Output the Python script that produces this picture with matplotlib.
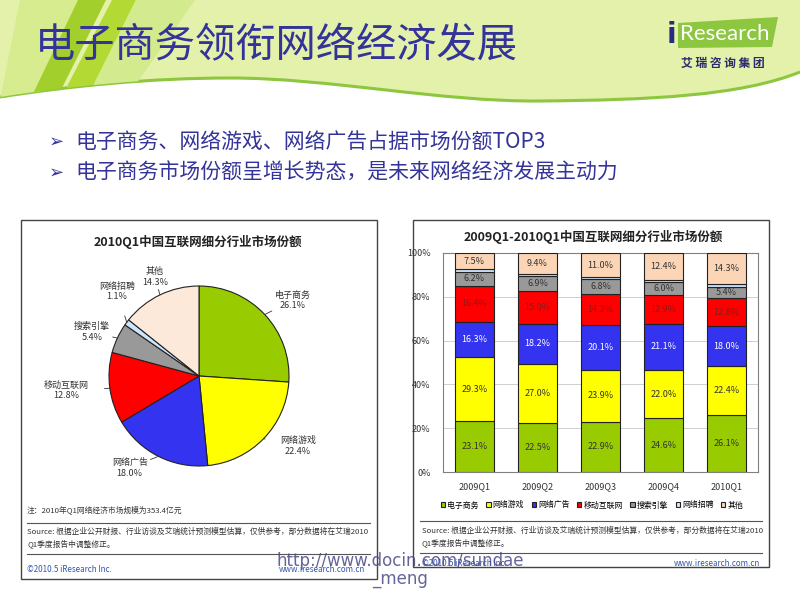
import numpy as np
import matplotlib
matplotlib.use('Agg')
import matplotlib.pyplot as plt
from matplotlib.path import Path
from matplotlib.patches import PathPatch, Polygon, Rectangle

plt.rcParams['font.family'] = ['Noto Sans CJK SC', 'DejaVu Sans']

# data
segments = ['电子商务', '网络游戏', '网络广告', '移动互联网', '搜索引擎', '网络招聘', '其他']
pie_share = [26.1, 22.4, 18.0, 12.8, 5.4, 1.1, 14.3]

quarters = ['2009Q1', '2009Q2', '2009Q3', '2009Q4', '2010Q1']
ecommerce = [23.1, 22.5, 22.9, 24.6, 26.1]
online_game = [29.3, 27.0, 23.9, 22.0, 22.4]
online_ads = [16.3, 18.2, 20.1, 21.1, 18.0]
mobile = [16.4, 15.0, 14.2, 12.9, 12.8]
search = [6.2, 6.9, 6.8, 6.0, 5.4]
recruit = [1.2, 1.0, 1.1, 1.0, 1.1]
others = [7.5, 9.4, 11.0, 12.4, 14.3]

bullets = ['电子商务、网络游戏、网络广告占据市场份额TOP3',
           '电子商务市场份额呈增长势态，是未来网络经济发展主动力']

pie_colors = ['#99cc00', '#ffff00', '#3333f0', '#ff0000', '#999999', '#cce6ff', '#fde9d9']
bar_colors = ['#99cc00', '#ffff00', '#3333f0', '#ff0000', '#999999', '#cce6ff', '#fbd5b5']
label_colors = ['#333333', '#333333', 'white', '#8b1a1a', '#333333', None, '#333333']

navy = '#333399'
source_txt = ('Source: 根据企业公开财报、行业访谈及艾瑞统计预测模型估算，仅供参考，部分数据将在艾瑞2010\n'
              'Q1季度报告中调整修正。')

fig = plt.figure(figsize=(8, 6), dpi=100)
fig.patch.set_facecolor('white')

# background layer in pixel coordinates
bg = fig.add_axes([0, 0, 1, 1])
bg.set_xlim(0, 800)
bg.set_ylim(600, 0)
bg.axis('off')

# header with wave
M, L, C, X = Path.MOVETO, Path.LINETO, Path.CURVE4, Path.CLOSEPOLY
head_verts = [(0, 0), (0, 97), (70, 86), (150, 78), (230, 78), (330, 78), (440, 102),
              (540, 101), (650, 100), (740, 96), (800, 72), (800, 0), (0, 0)]
head_codes = [M, L, C, C, C, C, C, C, C, C, C, L, X]
head = PathPatch(Path(head_verts, head_codes), facecolor='#e3f1aa', edgecolor='none')
bg.add_patch(head)
wave = Path(head_verts[1:11], [M] + [C] * 9)
bg.add_patch(PathPatch(wave, facecolor='none', edgecolor='#8dc63f', lw=2.2))

streaks = [((0, 100), (40, 100), (78, 0), (20, 0), '#d6ec8f'),
           ((30, 100), (56, 100), (106, 0), (78, 0), '#a2cf2c'),
           ((60, 100), (86, 100), (136, 0), (112, 0), '#b3d935'),
           ((86, 100), (125, 100), (195, 0), (136, 0), '#d3ea8e')]
for p1, p2, p3, p4, col in streaks:
    s = Polygon([p1, p2, p3, p4], closed=True, facecolor=col, edgecolor='none')
    bg.add_patch(s)
    s.set_clip_path(head)

bg.text(35, 46, '电子商务领衔网络经济发展', fontsize=29, color=navy, va='center', ha='left')

# logo
bg.add_patch(Polygon([(678, 23), (778, 17), (772, 47), (678, 48)], closed=True,
                     facecolor='#8dc63f', edgecolor='none'))
bg.text(671, 35, 'i', fontsize=20, color='#2a2a80', fontweight='bold', ha='center', va='center',
        family='DejaVu Sans')
bg.text(725, 34, 'Research', fontsize=16, color='white', ha='center', va='center', family='Lato')
bg.text(723, 63, '艾 瑞 咨 询 集 团', fontsize=8.5, color='#2a2a6e', ha='center', va='center',
        fontweight='bold')

# bullet points
for i, b in enumerate(bullets):
    y = 142 + 31 * i
    bg.text(57, y, '➢', fontsize=13, color=navy, ha='center', va='center', family='DejaVu Sans',
            fontweight='bold')
    bg.text(75, y, b, fontsize=15, color=navy, ha='left', va='center')

# panel frames
bg.add_patch(Rectangle((21, 220), 356, 359, facecolor='white', edgecolor='#444444', lw=1))
bg.add_patch(Rectangle((413, 220), 356, 347, facecolor='white', edgecolor='#444444', lw=1))

# left panel footer
bg.text(27, 510, '注：2010年Q1网络经济市场规模为353.4亿元', fontsize=5.6, color='#333333', va='center')
bg.plot([27, 370], [523, 523], color='#555555', lw=0.8)
bg.text(27, 538, source_txt, fontsize=5.6, color='#333333', va='center', linespacing=1.6)
bg.plot([27, 370], [554, 554], color='#555555', lw=0.8)
bg.text(27, 569, '©2010.5 iResearch Inc.', fontsize=5.8, color='#3355aa', va='center')
bg.text(365, 569, 'www.iresearch.com.cn', fontsize=5.8, color='#3355aa', va='center', ha='right')

# right panel footer
bg.plot([420, 762], [521, 521], color='#555555', lw=0.8)
bg.text(422, 537, source_txt, fontsize=5.6, color='#333333', va='center', linespacing=1.6)
bg.plot([420, 762], [553, 553], color='#555555', lw=0.8)
bg.text(422, 563, '©2010.5 iResearch Inc.', fontsize=5.8, color='#3355aa', va='center')
bg.text(760, 563, 'www.iresearch.com.cn', fontsize=5.8, color='#3355aa', va='center', ha='right')

# chart titles
bg.text(198, 242, '2010Q1中国互联网细分行业市场份额', fontsize=9, fontweight='bold',
        color='#222222', ha='center', va='center')
bg.text(593, 237, '2009Q1-2010Q1中国互联网细分行业市场份额', fontsize=9, fontweight='bold',
        color='#222222', ha='center', va='center')

# ---- pie chart ----
cx, cy, r = 199, 376, 90
pax = fig.add_axes([(cx - r) / 800, (600 - cy - r) / 600, 2 * r / 800, 2 * r / 600])
wedges, _ = pax.pie(pie_share, colors=pie_colors, startangle=90, counterclock=False,
                    wedgeprops=dict(edgecolor='#222222', linewidth=0.8))
pax.set_xlim(-1, 1)
pax.set_ylim(-1, 1)
pax.set_aspect('equal')

label_pos = [(1.04, 0.84), (1.10, -0.78), (-0.77, -1.02), (-1.47, -0.16),
             (-1.19, 0.49), (-0.91, 0.94), (-0.49, 1.10)]
for w, name, val, pos in zip(wedges, segments, pie_share, label_pos):
    mid = np.deg2rad((w.theta1 + w.theta2) / 2)
    pax.annotate(f'{name}\n{val:.1f}%', xy=(np.cos(mid), np.sin(mid)), xytext=pos,
                 fontsize=6.5, color='#333333', ha='center', va='center', annotation_clip=False,
                 arrowprops=dict(arrowstyle='-', color='#333333', lw=0.6, shrinkA=9, shrinkB=0))

# ---- stacked bars ----
bax = fig.add_axes([443 / 800, (600 - 472) / 600, 315 / 800, 219 / 600])
series = [ecommerce, online_game, online_ads, mobile, search, recruit, others]
xpos = np.arange(len(quarters))
bottom = np.zeros(len(quarters))
containers = []
for vals, col, lc in zip(series, bar_colors, label_colors):
    bc = bax.bar(xpos, vals, 0.63, bottom=bottom, color=col, edgecolor='#222222', linewidth=0.8,
                 zorder=3)
    containers.append(bc)
    if lc is not None:
        bax.bar_label(bc, labels=[f'{v:.1f}%' for v in vals], label_type='center',
                      fontsize=6.5, color=lc)
    bottom += np.array(vals)

bax.set_xlim(-0.5, len(quarters) - 0.5)
bax.set_ylim(0, 100)
bax.set_yticks(range(0, 101, 20))
bax.set_yticklabels([f'{v}%' for v in range(0, 101, 20)])
bax.set_xticks(xpos)
bax.set_xticklabels(quarters)
bax.tick_params(axis='both', length=0, labelsize=6.5, labelcolor='#333333')
bax.tick_params(axis='y', pad=9)
bax.tick_params(axis='x', pad=7)
bax.grid(axis='y', color='#c8c8c8', lw=0.6, zorder=0)
for sp in bax.spines.values():
    sp.set_color('#808080')
    sp.set_linewidth(0.8)

bax.legend(containers, segments, loc='center', bbox_to_anchor=(592, 505),
           bbox_transform=bg.transData, ncol=7, frameon=False, fontsize=5.7,
           handlelength=0.55, handleheight=0.55, handletextpad=0.25, columnspacing=0.95)

# watermark
bg.text(400, 561, 'http://www.docin.com/sundae', fontsize=12, color='#4a4a8a', ha='center',
        va='center', family='DejaVu Sans', alpha=0.85)
bg.text(400, 579, '_meng', fontsize=12, color='#4a4a8a', ha='center', va='center',
        family='DejaVu Sans', alpha=0.85)

fig.savefig('out.png', dpi=100)
